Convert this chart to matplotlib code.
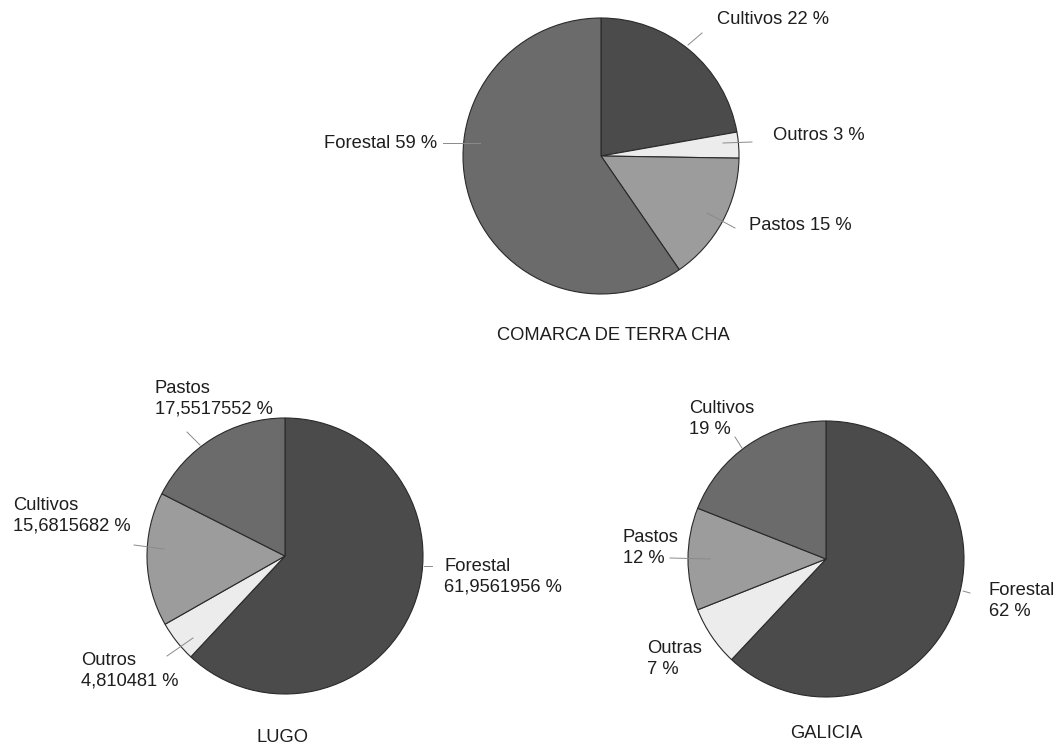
import matplotlib
matplotlib.use("Agg")
import matplotlib.pyplot as plt

plt.rcParams['font.family'] = ['Liberation Sans', 'DejaVu Sans']

# data, clockwise from 12 o'clock
terra_labels = ["Cultivos", "Outros", "Pastos", "Forestal"]
terra_values = [22, 3, 15, 59]
terra_text = ["Cultivos 22 %", "Outros 3 %", "Pastos 15 %", "Forestal 59 %"]

lugo_labels = ["Forestal", "Outros", "Cultivos", "Pastos"]
lugo_values = [61.9561956, 4.810481, 15.6815682, 17.5517552]
lugo_text = ["Forestal\n61,9561956 %", "Outros\n4,810481 %",
             "Cultivos\n15,6815682 %", "Pastos\n17,5517552 %"]

galicia_labels = ["Forestal", "Outras", "Pastos", "Cultivos"]
galicia_values = [62, 7, 12, 19]
galicia_text = ["Forestal\n62 %", "Outras\n7 %", "Pastos\n12 %", "Cultivos\n19 %"]

titles = ["COMARCA DE TERRA CHA", "LUGO", "GALICIA"]

# grey shades
DARK, MID, LIGHT, PALE = "#4b4b4b", "#6b6b6b", "#9c9c9c", "#ececec"
terra_colors = [DARK, PALE, LIGHT, MID]
lugo_colors = [DARK, PALE, LIGHT, MID]
galicia_colors = [DARK, PALE, LIGHT, MID]

W, H = 1057, 746
fig = plt.figure(figsize=(W / 100, H / 100), dpi=100)
ax = fig.add_axes([0, 0, 1, 1])

FS = 13.2
TXT = "#1e1e1e"
LINE = "#8a8a8a"


def draw_pie(values, colors, cx, cy, r):
    ax.pie(values, colors=colors, startangle=90, counterclock=False,
           center=(cx, H - cy), radius=r,
           wedgeprops=dict(edgecolor="#2a2a2a", linewidth=0.8))


def label(s, x, y, ha="left"):
    ax.text(x, H - y, s, ha=ha, va="center", fontsize=FS, color=TXT,
            linespacing=1.25)


def leader(p1, p2):
    ax.plot([p1[0], p2[0]], [H - p1[1], H - p2[1]], color=LINE, lw=0.7)


# top pie - Terra Cha
draw_pie(terra_values, terra_colors, 601, 156, 138)
label(terra_text[0], 717, 20)
label(terra_text[1], 773, 136)
label(terra_text[2], 749, 226)
label(terra_text[3], 437, 143, ha="right")
leader((688, 45), (702, 33))
leader((723, 143), (752, 142))
leader((707, 213), (735, 228))
leader((443, 143), (480, 143))
ax.text(613, H - 335, titles[0], ha="center", va="center", fontsize=FS, color=TXT)

# bottom left - Lugo
draw_pie(lugo_values, lugo_colors, 285, 556, 138)
label(lugo_text[0], 444, 577)
label(lugo_text[1], 81, 671)
label(lugo_text[2], 13, 516)
label(lugo_text[3], 155, 399)
leader((424, 566), (432, 566))
leader((167, 656), (193, 638))
leader((134, 545), (164, 549))
leader((187, 432), (200, 445))
ax.text(283, H - 737, titles[1], ha="center", va="center", fontsize=FS, color=TXT)

# bottom right - Galicia
draw_pie(galicia_values, galicia_colors, 826, 559, 138)
label(galicia_text[0], 989, 601)
label(galicia_text[1], 647, 659)
label(galicia_text[2], 623, 548)
label(galicia_text[3], 689, 419)
leader((963, 591), (970, 593))
leader((670, 558), (710, 559))
leader((735, 437), (742, 448))
ax.text(826, H - 733, titles[2], ha="center", va="center", fontsize=FS, color=TXT)

ax.set_xlim(0, W)
ax.set_ylim(0, H)
ax.set_aspect("auto")
ax.axis("off")

fig.savefig("out.png", dpi=100, facecolor="white")
